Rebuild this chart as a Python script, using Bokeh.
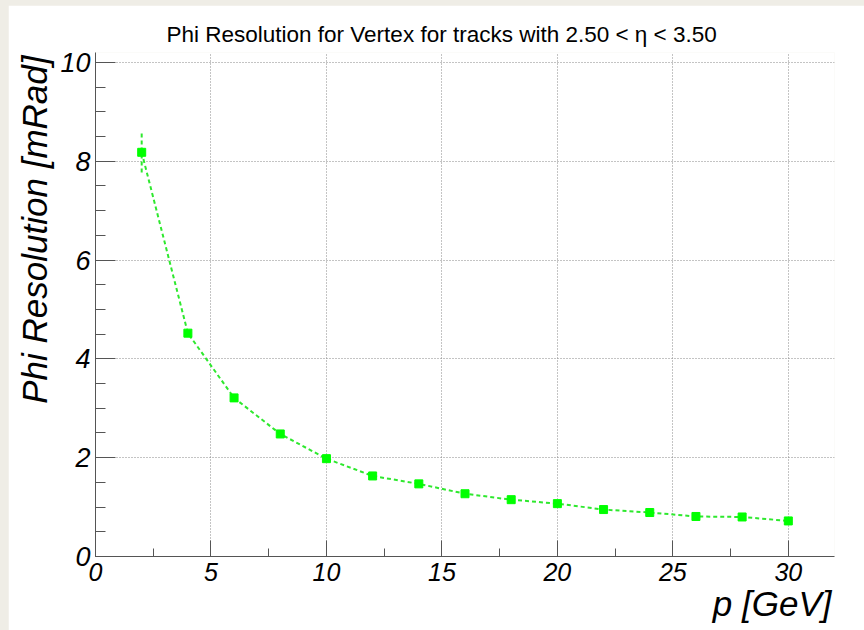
from bokeh.plotting import figure
from bokeh.models import SingleIntervalTicker, Title, ColumnDataSource, Range1d
from bokeh.layouts import column
from bokeh.embed import file_html
from bokeh.resources import INLINE

# ---- data ----
momentum = [2, 4, 6, 8, 10, 12, 14, 16, 18, 20, 22, 24, 26, 28, 30]
phi_res = [8.18, 4.52, 3.21, 2.48, 1.98, 1.63, 1.47, 1.27, 1.15, 1.07, 0.95, 0.89, 0.81, 0.80, 0.72]
phi_err = [0.41, 0.06, 0.04, 0.03, 0.02, 0.02, 0.02, 0.02, 0.02, 0.01, 0.01, 0.01, 0.01, 0.01, 0.01]

title_text = "Phi Resolution for Vertex for tracks with 2.50 < \u03b7 < 3.50"
x_title = "p [GeV]"
y_title = "Phi Resolution [mRad]"

X0, X1 = 0, 32
Y0, Y1 = 0, 10.2

# frame geometry in page pixels
OFF_X, OFF_Y = 8, 5
FL, FR, FT, FB = 95, 834, 52, 556
W, H = 864 - OFF_X, 630 - OFF_Y

p = figure(width=W, height=H, output_backend="svg", toolbar_location=None,
           x_range=Range1d(X0, X1), y_range=Range1d(Y0, Y1),
           min_border_left=FL - OFF_X, min_border_right=(OFF_X + W) - FR,
           min_border_top=FT - OFF_Y, min_border_bottom=(OFF_Y + H) - FB,
           background_fill_color="white", border_fill_color="white")
p.margin = (OFF_Y, 0, 0, OFF_X)
p.outline_line_color = None

axis_col = "#555555"
for ax in (p.xaxis[0], p.yaxis[0]):
    ax.axis_line_color = axis_col
    ax.major_tick_line_color = axis_col
    ax.minor_tick_line_color = axis_col
    ax.major_tick_out = 0
    ax.minor_tick_out = 0
    ax.major_label_text_font = "Liberation Sans"
    ax.major_label_text_font_style = "italic"
    ax.major_label_text_color = "black"

p.xaxis.ticker = SingleIntervalTicker(interval=5, num_minor_ticks=2)
p.yaxis.ticker = SingleIntervalTicker(interval=2, num_minor_ticks=4)
p.xaxis.major_tick_in = 16
p.xaxis.minor_tick_in = 8
p.yaxis.major_tick_in = 20
p.yaxis.minor_tick_in = 10
p.xaxis.major_label_text_font_size = "25px"
p.yaxis.major_label_text_font_size = "27px"
p.xaxis.major_label_standoff = 6
p.yaxis.major_label_standoff = 5

for g in (p.xgrid[0], p.ygrid[0]):
    g.grid_line_color = "#888888"
    g.grid_line_dash = "1 2"
    g.grid_line_width = 1

src = ColumnDataSource(dict(
    x=momentum, y=phi_res,
    lo=[v - e for v, e in zip(phi_res, phi_err)],
    hi=[v + e for v, e in zip(phi_res, phi_err)],
))

green_line = "#2ee82e"
p.line("x", "y", source=src, line_color=green_line, line_width=2, line_dash="4 3")
p.segment(x0="x", y0="lo", x1="x", y1="hi", source=src, line_color=green_line,
          line_width=2, line_dash="4 3")
p.scatter("x", "y", source=src, marker="square", size=8,
          fill_color="#00ff00", line_color="#00ff00")

# main title (above the frame)
p.title.text = title_text
p.title.align = "left"
p.title.offset = 71
p.title.standoff = 12
p.title.text_font = "Liberation Sans"
p.title.text_font_style = "normal"
p.title.text_font_size = "22.5px"
p.title.text_color = "black"

# x-axis title, right aligned at the end of the axis
xt = Title(text=x_title, align="right", offset=3, standoff=0, vertical_align="top",
           text_font="Liberation Sans", text_font_style="italic",
           text_font_size="35px", text_color="black")
p.add_layout(xt, "below")

# y-axis title, aligned at the top end of the axis
yt = Title(text=y_title, align="right", offset=3, standoff=8,
           text_font="Liberation Sans", text_font_style="italic",
           text_font_size="35px", text_color="black")
p.add_layout(yt, "left")

layout = column(p, styles={"background-color": "#efede6"})

open("out.html", "w").write(file_html(layout, INLINE))
